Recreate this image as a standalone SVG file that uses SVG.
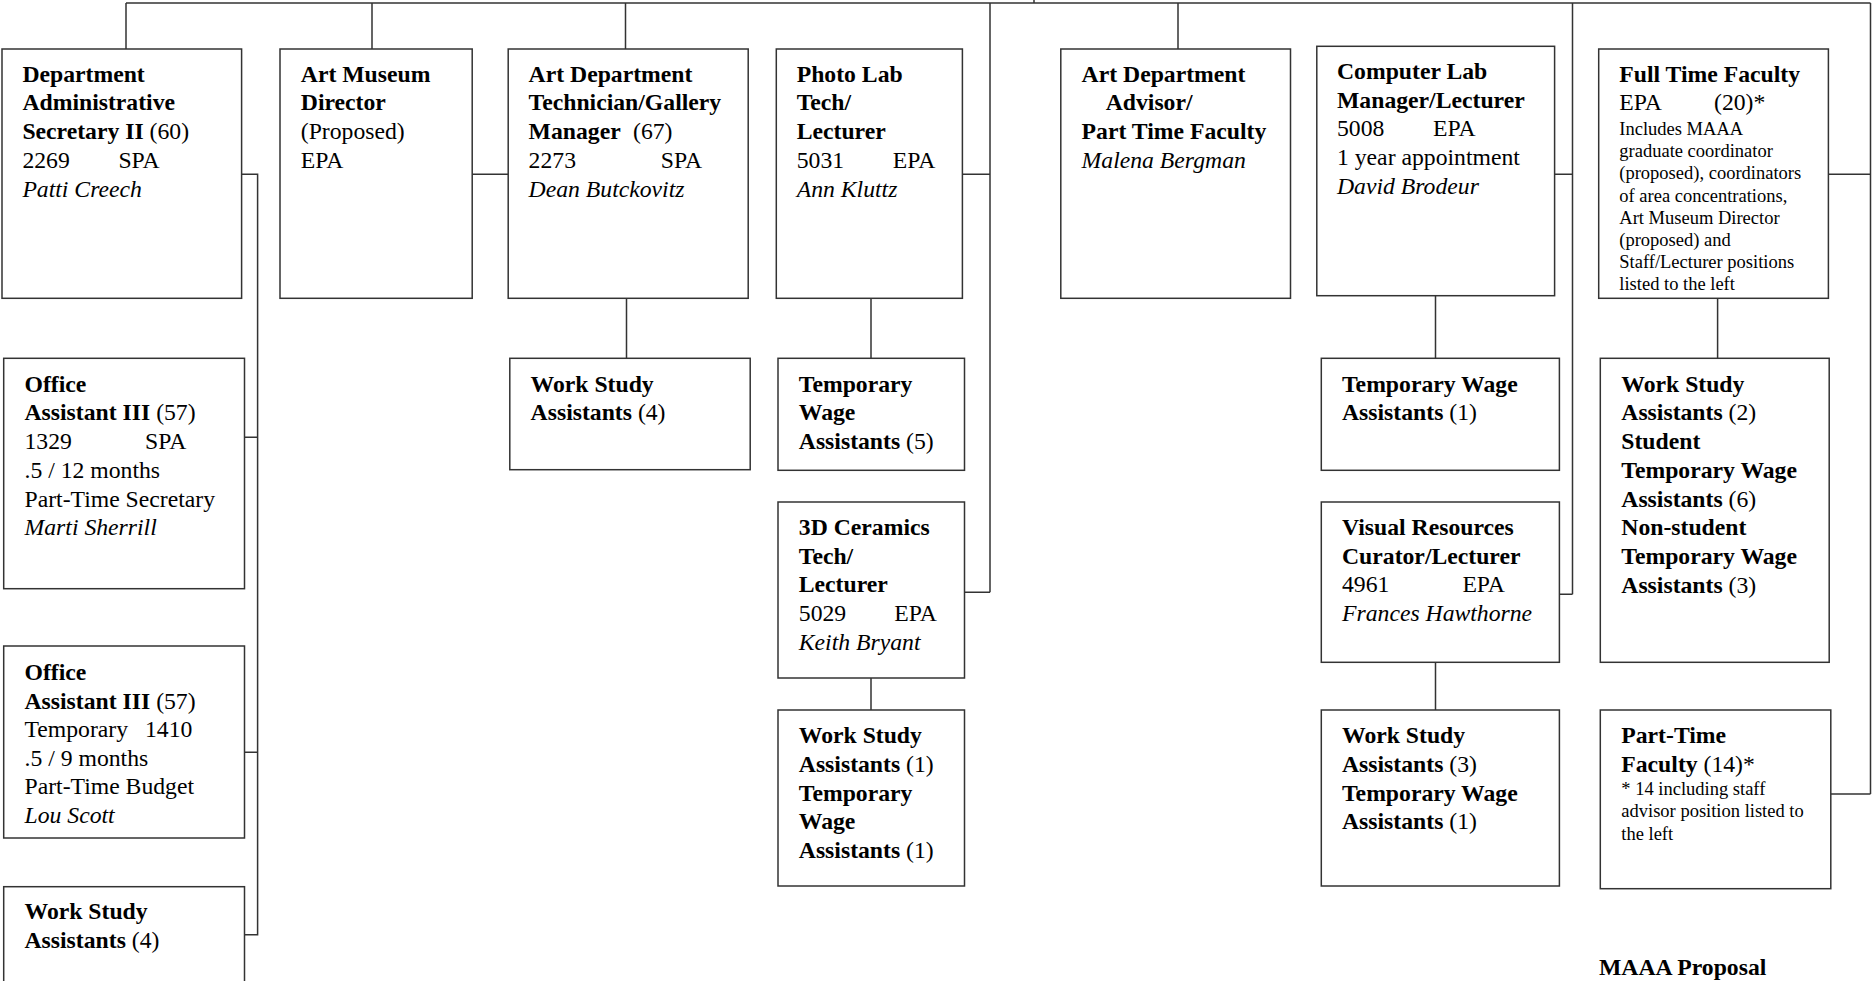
<svg xmlns="http://www.w3.org/2000/svg" width="1874" height="981" viewBox="0 0 1874 981">
<style>
.box{fill:#fff;stroke:#333;stroke-width:1.5}
.ln{fill:none;stroke:#333;stroke-width:1.5}
text{font-family:"Liberation Serif","Times New Roman",serif;font-size:23.7px;fill:#000}
.b{font-weight:bold}
.i{font-style:italic}
.s{font-size:18.5px}
</style>
<rect width="1874" height="981" fill="#fff"/>
<g id="connectors">
<path class="ln" d="M126,3 H1870.5 M1034,0 V3 M126,3 V49 M372,3 V49 M625.5,3 V49 M1178,3 V49"/>
<path class="ln" d="M990,3 V592.3 M962.4,174.3 H990 M964.5,592.3 H990"/>
<path class="ln" d="M1572.5,3 V594.3 M1554.6,174.3 H1572.5 M1559.4,594.3 H1572.5"/>
<path class="ln" d="M1870.5,3 V794 M1828.4,174.3 H1870.5 M1830.8,794 H1870.5"/>
<path class="ln" d="M241.6,174.3 H257.6 V934.7 H244.5 M244.5,437.3 H257.6 M244.5,752.3 H257.6"/>
<path class="ln" d="M472.2,174.3 H508.2"/>
<path class="ln" d="M626.5,298.3 V358.3 M871,298.3 V358.3 M871,678 V710 M1435.5,295.7 V358.3 M1435.5,662.3 V710 M1717.6,298.3 V358.3"/>
</g>
<g id="dept-admin-secretary">
<rect class="box" x="2" y="49" width="239.6" height="249.3"/>
<text x="22.4" y="81.7"><tspan class="b">Department</tspan><tspan class="b" x="22.4" y="110.4">Administrative</tspan><tspan class="b" x="22.4" y="139.1">Secretary II</tspan><tspan> (60)</tspan><tspan x="22.4" y="167.8">2269</tspan><tspan x="118.4">SPA</tspan><tspan class="i" x="22.4" y="196.5">Patti Creech</tspan></text>
</g>
<g id="art-museum-director">
<rect class="box" x="280" y="49" width="192.2" height="249.3"/>
<text x="300.8" y="81.7"><tspan class="b">Art Museum</tspan><tspan class="b" x="300.8" y="110.4">Director</tspan><tspan x="300.8" y="139.1">(Proposed)</tspan><tspan x="300.8" y="167.8">EPA</tspan></text>
</g>
<g id="art-dept-technician">
<rect class="box" x="508.2" y="49" width="240" height="249.3"/>
<text x="528.6" y="81.7"><tspan class="b">Art Department</tspan><tspan class="b" x="528.6" y="110.4">Technician/Gallery</tspan><tspan class="b" x="528.6" y="139.1">Manager</tspan><tspan x="633">(67)</tspan><tspan x="528.6" y="167.8">2273</tspan><tspan x="660.8">SPA</tspan><tspan class="i" x="528.6" y="196.5">Dean Butckovitz</tspan></text>
</g>
<g id="photo-lab">
<rect class="box" x="776.3" y="49" width="186.1" height="249.3"/>
<text x="796.7" y="81.7"><tspan class="b">Photo Lab</tspan><tspan class="b" x="796.7" y="110.4">Tech/</tspan><tspan class="b" x="796.7" y="139.1">Lecturer</tspan><tspan x="796.7" y="167.8">5031</tspan><tspan x="892.7">EPA</tspan><tspan class="i" x="796.7" y="196.5">Ann Kluttz</tspan></text>
</g>
<g id="art-dept-advisor">
<rect class="box" x="1060.8" y="49" width="229.7" height="249.3"/>
<text x="1081.6" y="81.7"><tspan class="b">Art Department</tspan><tspan class="b" x="1105.7" y="110.4">Advisor/</tspan><tspan class="b" x="1081.6" y="139.1">Part Time Faculty</tspan><tspan class="i" x="1081.6" y="167.8">Malena Bergman</tspan></text>
</g>
<g id="computer-lab">
<rect class="box" x="1316.8" y="46.3" width="237.8" height="249.4"/>
<text x="1337" y="79"><tspan class="b">Computer Lab</tspan><tspan class="b" x="1337" y="107.7">Manager/Lecturer</tspan><tspan x="1337" y="136.4">5008</tspan><tspan x="1433">EPA</tspan><tspan x="1337" y="165.1">1 year appointment</tspan><tspan class="i" x="1337" y="193.8">David Brodeur</tspan></text>
</g>
<g id="full-time-faculty">
<rect class="box" x="1598.7" y="49" width="229.7" height="249.3"/>
<text x="1619.3" y="81.7"><tspan class="b">Full Time Faculty</tspan><tspan x="1619.3" y="110.4">EPA</tspan><tspan x="1714">(20)*</tspan></text>
<text class="s" x="1619.3" y="135"><tspan>Includes MAAA</tspan><tspan x="1619.3" y="157.2">graduate coordinator</tspan><tspan x="1619.3" y="179.4">(proposed), coordinators</tspan><tspan x="1619.3" y="201.6">of area concentrations,</tspan><tspan x="1619.3" y="223.8">Art Museum Director</tspan><tspan x="1619.3" y="246">(proposed) and</tspan><tspan x="1619.3" y="268.2">Staff/Lecturer positions</tspan><tspan x="1619.3" y="290.4">listed to the left</tspan></text>
</g>
<g id="office-assistant-1">
<rect class="box" x="3.7" y="358.3" width="240.8" height="230.4"/>
<text x="24.5" y="391.7"><tspan class="b">Office</tspan><tspan class="b" x="24.5" y="420.4">Assistant III</tspan><tspan> (57)</tspan><tspan x="24.5" y="449.1">1329</tspan><tspan x="145">SPA</tspan><tspan x="24.5" y="477.8">.5 / 12 months</tspan><tspan x="24.5" y="506.5">Part-Time Secretary</tspan><tspan class="i" x="24.5" y="535.2">Marti Sherrill</tspan></text>
</g>
<g id="office-assistant-2">
<rect class="box" x="3.7" y="646" width="240.8" height="192"/>
<text x="24.5" y="680"><tspan class="b">Office</tspan><tspan class="b" x="24.5" y="708.6">Assistant III</tspan><tspan> (57)</tspan><tspan x="24.5" y="737.2">Temporary</tspan><tspan x="145">1410</tspan><tspan x="24.5" y="765.8">.5 / 9 months</tspan><tspan x="24.5" y="794.4">Part-Time Budget</tspan><tspan class="i" x="24.5" y="823">Lou Scott</tspan></text>
</g>
<g id="work-study-admin">
<rect class="box" x="3.7" y="886.7" width="240.8" height="120"/>
<text x="24.5" y="919.3"><tspan class="b">Work Study</tspan><tspan class="b" x="24.5" y="948">Assistants</tspan><tspan> (4)</tspan></text>
</g>
<g id="work-study-tech">
<rect class="box" x="509.8" y="358.3" width="240.4" height="111.4"/>
<text x="530.6" y="391.7"><tspan class="b">Work Study</tspan><tspan class="b" x="530.6" y="420.4">Assistants</tspan><tspan> (4)</tspan></text>
</g>
<g id="temp-wage-photo">
<rect class="box" x="778" y="358.3" width="186.5" height="112"/>
<text x="798.8" y="391.7"><tspan class="b">Temporary</tspan><tspan class="b" x="798.8" y="420.4">Wage</tspan><tspan class="b" x="798.8" y="449.1">Assistants</tspan><tspan> (5)</tspan></text>
</g>
<g id="ceramics-tech">
<rect class="box" x="778" y="502" width="186.5" height="176"/>
<text x="798.8" y="535"><tspan class="b">3D Ceramics</tspan><tspan class="b" x="798.8" y="563.7">Tech/</tspan><tspan class="b" x="798.8" y="592.4">Lecturer</tspan><tspan x="798.8" y="621.1">5029</tspan><tspan x="894.3">EPA</tspan><tspan class="i" x="798.8" y="649.8">Keith Bryant</tspan></text>
</g>
<g id="work-study-ceramics">
<rect class="box" x="778" y="710" width="186.5" height="176"/>
<text x="798.8" y="743.3"><tspan class="b">Work Study</tspan><tspan class="b" x="798.8" y="772">Assistants</tspan><tspan> (1)</tspan><tspan class="b" x="798.8" y="800.7">Temporary</tspan><tspan class="b" x="798.8" y="829.4">Wage</tspan><tspan class="b" x="798.8" y="858.1">Assistants</tspan><tspan> (1)</tspan></text>
</g>
<g id="temp-wage-complab">
<rect class="box" x="1321.3" y="358.3" width="238.1" height="112"/>
<text x="1342" y="391.7"><tspan class="b">Temporary Wage</tspan><tspan class="b" x="1342" y="420.4">Assistants</tspan><tspan> (1)</tspan></text>
</g>
<g id="visual-resources">
<rect class="box" x="1321.3" y="502" width="238.1" height="160.3"/>
<text x="1342" y="535"><tspan class="b">Visual Resources</tspan><tspan class="b" x="1342" y="563.7">Curator/Lecturer</tspan><tspan x="1342" y="592.4">4961</tspan><tspan x="1462.4">EPA</tspan><tspan class="i" x="1342" y="621.1">Frances Hawthorne</tspan></text>
</g>
<g id="work-study-visres">
<rect class="box" x="1321.3" y="710" width="238.1" height="176"/>
<text x="1342" y="743.3"><tspan class="b">Work Study</tspan><tspan class="b" x="1342" y="772">Assistants</tspan><tspan> (3)</tspan><tspan class="b" x="1342" y="800.7">Temporary Wage</tspan><tspan class="b" x="1342" y="829.4">Assistants</tspan><tspan> (1)</tspan></text>
</g>
<g id="assistants-faculty">
<rect class="box" x="1600.3" y="358.3" width="228.9" height="304"/>
<text x="1621.3" y="391.7"><tspan class="b">Work Study</tspan><tspan class="b" x="1621.3" y="420.4">Assistants</tspan><tspan> (2)</tspan><tspan class="b" x="1621.3" y="449.1">Student</tspan><tspan class="b" x="1621.3" y="477.8">Temporary Wage</tspan><tspan class="b" x="1621.3" y="506.5">Assistants</tspan><tspan> (6)</tspan><tspan class="b" x="1621.3" y="535.2">Non-student</tspan><tspan class="b" x="1621.3" y="563.9">Temporary Wage</tspan><tspan class="b" x="1621.3" y="592.6">Assistants</tspan><tspan> (3)</tspan></text>
</g>
<g id="part-time-faculty">
<rect class="box" x="1600.3" y="710" width="230.5" height="178.7"/>
<text x="1621.3" y="743.3"><tspan class="b">Part-Time</tspan><tspan class="b" x="1621.3" y="772">Faculty</tspan><tspan> (14)*</tspan></text>
<text class="s" x="1621.3" y="795"><tspan>* 14 including staff</tspan><tspan x="1621.3" y="817.3">advisor position listed to</tspan><tspan x="1621.3" y="839.6">the left</tspan></text>
</g>
<text class="b" x="1599" y="975">MAAA Proposal</text>
</svg>
